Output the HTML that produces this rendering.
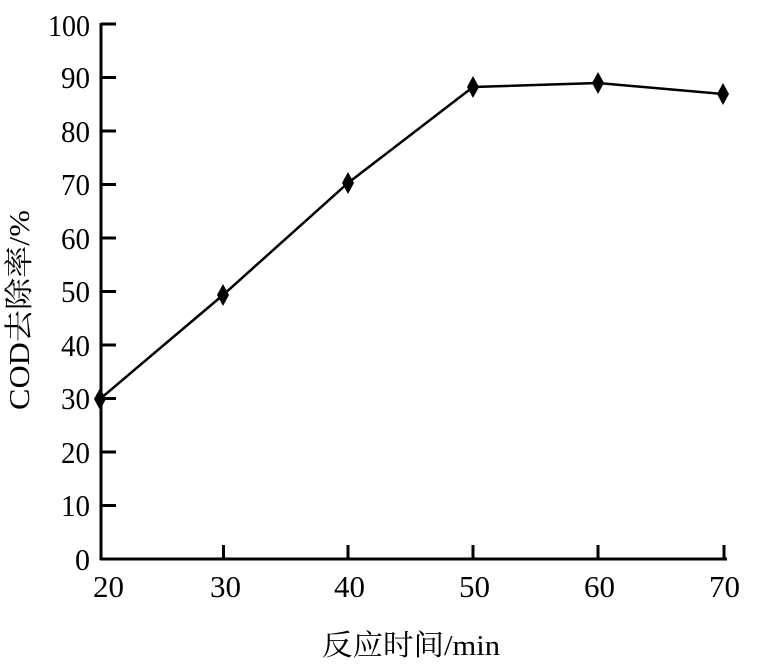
<!DOCTYPE html>
<html><head><meta charset="utf-8"><style>
html,body{margin:0;padding:0;background:#fff;}
</style></head><body>
<svg width="772" height="672" xmlns="http://www.w3.org/2000/svg" style="display:block">
<g font-family="Liberation Serif, 'Noto Serif CJK SC', serif" font-size="31" fill="#000">
<line x1="101" y1="23" x2="101" y2="560" stroke="#000" stroke-width="3"/>
<line x1="100" y1="559" x2="727" y2="559" stroke="#000" stroke-width="3"/>
<g stroke="#000" stroke-width="3">
<line x1="101" y1="24" x2="116" y2="24"/>
<line x1="101" y1="77.5" x2="116" y2="77.5"/>
<line x1="101" y1="131" x2="116" y2="131"/>
<line x1="101" y1="184.5" x2="116" y2="184.5"/>
<line x1="101" y1="238" x2="116" y2="238"/>
<line x1="101" y1="291.5" x2="116" y2="291.5"/>
<line x1="101" y1="345" x2="116" y2="345"/>
<line x1="101" y1="398.5" x2="116" y2="398.5"/>
<line x1="101" y1="452" x2="116" y2="452"/>
<line x1="101" y1="505.5" x2="116" y2="505.5"/>
<line x1="223.5" y1="559" x2="223.5" y2="545"/>
<line x1="348" y1="559" x2="348" y2="545"/>
<line x1="473" y1="559" x2="473" y2="545"/>
<line x1="598" y1="559" x2="598" y2="545"/>
<line x1="724" y1="559" x2="724" y2="545"/>
</g>
<g lengthAdjust="spacingAndGlyphs">
<text x="48" y="36" textLength="42" lengthAdjust="spacingAndGlyphs">100</text>
<text x="61" y="88" textLength="29" lengthAdjust="spacingAndGlyphs">90</text>
<text x="61" y="142" textLength="29" lengthAdjust="spacingAndGlyphs">80</text>
<text x="61" y="195" textLength="29" lengthAdjust="spacingAndGlyphs">70</text>
<text x="61" y="249" textLength="29" lengthAdjust="spacingAndGlyphs">60</text>
<text x="61" y="302" textLength="29" lengthAdjust="spacingAndGlyphs">50</text>
<text x="61" y="356" textLength="29" lengthAdjust="spacingAndGlyphs">40</text>
<text x="61" y="409" textLength="29" lengthAdjust="spacingAndGlyphs">30</text>
<text x="61" y="463" textLength="29" lengthAdjust="spacingAndGlyphs">20</text>
<text x="61" y="516" textLength="29" lengthAdjust="spacingAndGlyphs">10</text>
<text x="75" y="570" textLength="15" lengthAdjust="spacingAndGlyphs">0</text>
<text x="93" y="597" textLength="31" lengthAdjust="spacingAndGlyphs">20</text>
<text x="210" y="597" textLength="31" lengthAdjust="spacingAndGlyphs">30</text>
<text x="334" y="597" textLength="31" lengthAdjust="spacingAndGlyphs">40</text>
<text x="459" y="597" textLength="31" lengthAdjust="spacingAndGlyphs">50</text>
<text x="584" y="597" textLength="31" lengthAdjust="spacingAndGlyphs">60</text>
<text x="709" y="597" textLength="31" lengthAdjust="spacingAndGlyphs">70</text>
<text x="322" y="655" font-size="29" textLength="178" lengthAdjust="spacingAndGlyphs">反应时间/min</text>
<text transform="translate(29,410) rotate(-90)" font-size="29" textLength="200" lengthAdjust="spacingAndGlyphs">COD去除率/%</text>
</g>
<polyline fill="none" stroke="#000" stroke-width="2.5" points="100,399 223,295 348,183 473,87 598,83 723,94"/>
<g fill="#000">
<polygon points="100,388 106,399 100,410 94,399"/>
<polygon points="223,284 229,295 223,306 217,295"/>
<polygon points="348,172 354,183 348,194 342,183"/>
<polygon points="473,76 479,87 473,98 467,87"/>
<polygon points="598,72 604,83 598,94 592,83"/>
<polygon points="723,83 729,94 723,105 717,94"/>
</g>
</g>
</svg>
</body></html>
